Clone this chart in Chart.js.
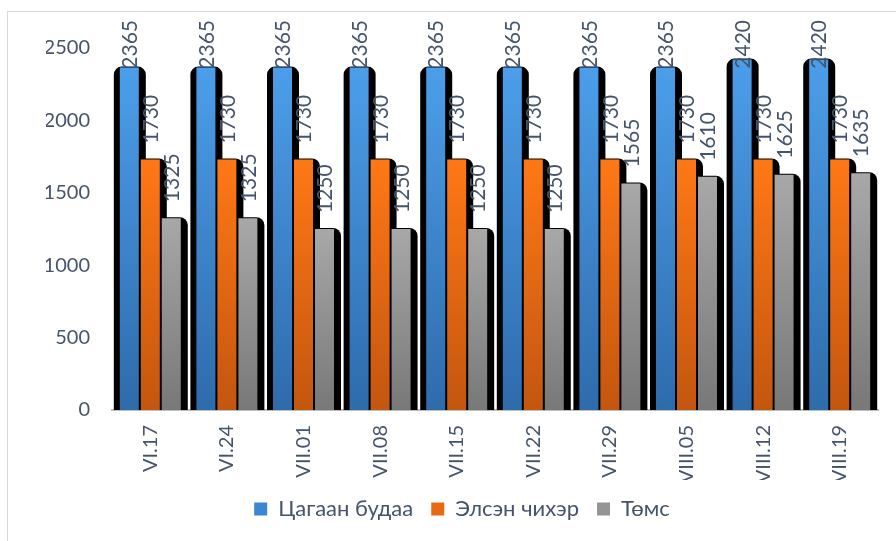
<!DOCTYPE html>
<html>
<head>
<meta charset="utf-8">
<script src="https://cdn.jsdelivr.net/npm/chart.js@4/dist/chart.umd.min.js"></script>
<style>
  html, body { margin: 0; padding: 0; background: #fff; }
  #wrap { width: 896px; height: 541px; }
</style>
</head>
<body>
<div id="wrap"><canvas id="chart" width="896" height="541"></canvas></div>
<script>
// chart data
let categories = ["VI.17", "VI.24", "VII.01", "VII.08", "VII.15", "VII.22", "VII.29", "VIII.05", "VIII.12", "VIII.19"];
let seriesNames = ["Цагаан будаа", "Элсэн чихэр", "Төмс"];
let riceValues = [2365, 2365, 2365, 2365, 2365, 2365, 2365, 2365, 2420, 2420];
let sugarValues = [1730, 1730, 1730, 1730, 1730, 1730, 1730, 1730, 1730, 1730];
let potatoValues = [1325, 1325, 1250, 1250, 1250, 1250, 1565, 1610, 1625, 1635];
let yTicks = [0, 500, 1000, 1500, 2000, 2500];

let textColor = "#44546A";
let fontFamily = "Lato, 'Noto Sans', sans-serif";

// top / bottom colours of each bar gradient
let gradientStops = [
    ["#4C9EEA", "#2E6BAB"],
    ["#FF7816", "#C3560F"],
    ["#A8A8A8", "#787878"]
];
let legendColors = ["#3D87D2", "#E96912", "#959595"];

// gradient that runs from the top of each bar to the axis
function barGradient(ctx, index) {
    let chart = ctx.chart;
    if (!chart.chartArea || ctx.parsed === undefined) {
        return legendColors[index];
    }
    let yScale = chart.scales.y;
    let top = yScale.getPixelForValue(ctx.parsed.y);
    let bottom = yScale.getPixelForValue(0);
    let g = chart.ctx.createLinearGradient(0, top, 0, bottom);
    g.addColorStop(0, gradientStops[index][0]);
    g.addColorStop(1, gradientStops[index][1]);
    return g;
}

// light frame around the whole chart
const framePlugin = {
    id: "frame",
    beforeDraw(chart) {
        let c = chart.ctx;
        c.save();
        c.strokeStyle = "#D9D9D9";
        c.lineWidth = 1;
        c.strokeRect(7.5, 11.5, chart.width + 20, chart.height + 20);
        c.restore();
    }
};

// black rounded backdrop behind every bar
const shadowPlugin = {
    id: "barShadow",
    beforeDatasetsDraw(chart) {
        let c = chart.ctx;
        c.save();
        c.fillStyle = "#000";
        chart.data.datasets.forEach((ds, i) => {
            chart.getDatasetMeta(i).data.forEach((bar) => {
                let w = bar.width;
                c.beginPath();
                c.roundRect(bar.x - w / 2 - 6, bar.y - 1, w + 13, bar.base - bar.y + 1, [8, 8, 0, 0]);
                c.fill();
            });
        });
        c.restore();
    }
};

// vertical value labels above the bars, kept inside the top edge
const valueLabelPlugin = {
    id: "valueLabels",
    afterDatasetsDraw(chart) {
        let c = chart.ctx;
        c.save();
        c.font = "21px " + fontFamily;
        c.fillStyle = textColor;
        c.textAlign = "left";
        c.textBaseline = "middle";
        chart.data.datasets.forEach((ds, i) => {
            chart.getDatasetMeta(i).data.forEach((bar, j) => {
                let text = String(ds.data[j]);
                let tw = c.measureText(text).width;
                let start = bar.y - 16;
                if (start - tw < 20) {
                    start = 20 + tw;
                }
                c.save();
                c.translate(bar.x + 1, start);
                c.rotate(-Math.PI / 2);
                c.fillText(text, 0, 0);
                c.restore();
            });
        });
        c.restore();
    }
};

let valueSets = [riceValues, sugarValues, potatoValues];
let datasets = valueSets.map((values, i) => ({
    label: seriesNames[i],
    data: values,
    backgroundColor: (ctx) => barGradient(ctx, i),
    borderWidth: 0,
    categoryPercentage: 0.822,
    barPercentage: 0.905
}));

const chart = new Chart(document.getElementById("chart"), {
    type: "bar",
    data: { labels: categories, datasets: datasets },
    options: {
        responsive: false,
        animation: false,
        layout: { padding: { left: 46, right: 18, top: 48, bottom: 11 } },
        plugins: {
            tooltip: { enabled: false },
            legend: {
                position: "bottom",
                labels: {
                    boxWidth: 13,
                    boxHeight: 13,
                    padding: 18,
                    color: textColor,
                    font: { family: fontFamily, size: 22 },
                    generateLabels: (ch) => ch.data.datasets.map((ds, i) => ({
                        text: ds.label,
                        fillStyle: legendColors[i],
                        strokeStyle: legendColors[i],
                        lineWidth: 0,
                        fontColor: textColor,
                        datasetIndex: i
                    }))
                }
            }
        },
        scales: {
            x: {
                grid: { display: false, drawTicks: false },
                border: { display: true, color: "#BFBFBF", width: 2 },
                ticks: {
                    color: textColor,
                    font: { family: fontFamily, size: 20 },
                    minRotation: 90,
                    maxRotation: 90,
                    padding: 15
                },
                afterFit: (scale) => { scale.height = 70; }
            },
            y: {
                min: 0,
                max: 2500,
                afterBuildTicks: (scale) => { scale.ticks = yTicks.map(v => ({ value: v })); },
                grid: { display: false, drawTicks: false },
                border: { display: false },
                ticks: {
                    color: textColor,
                    font: { family: fontFamily, size: 20 },
                    padding: 22,
                    callback: (v) => String(v)
                },
                afterFit: (scale) => { scale.width = 66; }
            }
        }
    },
    plugins: [framePlugin, shadowPlugin, valueLabelPlugin]
});
</script>
</body>
</html>
